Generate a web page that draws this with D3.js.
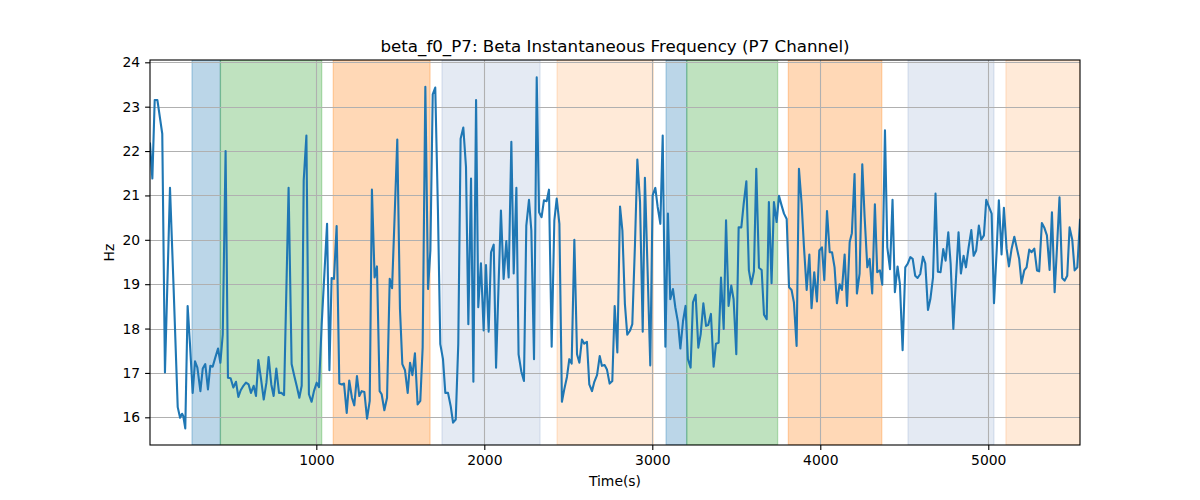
<!DOCTYPE html>
<html>
<head>
<meta charset="utf-8">
<script src="https://cdn.jsdelivr.net/npm/d3@7"></script>
<style>
  html, body { margin: 0; padding: 0; background: #fff; }
  svg { display: block; font-family: "DejaVu Sans", sans-serif; }
</style>
</head>
<body>
<svg id="chart" width="1200" height="500"></svg>
<script>
// ---- data ----
const titleText = "beta_f0_P7: Beta Instantaneous Frequency (P7 Channel)";
const xLabelText = "Time(s)";
const yLabelText = "Hz";
const xTickValues = [1000, 2000, 3000, 4000, 5000];
const yTickValues = [16, 17, 18, 19, 20, 21, 22, 23, 24];

const spanStart = [260, 429, 1101, 1748, 2433, 3082, 3205, 3810, 4522, 5105];
const spanEnd   = [429, 1032, 1677, 2332, 3006, 3205, 3746, 4366, 5034, 5546];
const spanKind  = ["blue", "green", "orange", "lightblue", "lightorange",
                   "blue", "green", "orange", "lightblue", "lightorange"];

const times = [10,24,38,54,83,99,129,149,175,189,201,208,220,234,248,264,278,292,310,324,339,355,369,383,399,415,429,443,460,474,490,506,522,536,550,566,581,597,611,627,641,655,671,687,703,716,732,746,762,778,792,808,835,853,869,883,899,913,925,941,956,972,986,1002,1016,1032,1064,1078,1091,1105,1121,1137,1151,1165,1181,1196,1212,1226,1242,1256,1270,1286,1302,1318,1331,1347,1361,1377,
1389,1405,1421,1437,1451,1466,1482,1498,1512,1528,1544,1558,1572,1587,1603,1619,1633,1649,1665,1679,1693,1708,1724,1738,1754,1768,1784,1800,1814,1830,1845,1859,1875,1891,1905,1921,1935,1951,1964,1980,1996,2010,2026,2040,2056,2070,2085,2099,2115,2131,2145,2161,2175,2191,2204,2220,2236,2250,2266,2280,2296,2312,2326,2341,2355,2371,2385,2401,2417,2431,2447,2462,2476,2492,2506,2520,2536,2552,2566,2581,2595,2611,2625,2641,2655,2671,2687,2700,2716,2730,2746,
2762,2776,2792,2808,2822,2837,2851,2867,2881,2897,2911,2927,2943,2956,2972,2988,3002,3018,3032,3048,3062,3078,3093,3107,3123,3137,3153,3167,3183,3198,3212,3228,3242,3258,3274,3288,3304,3320,3333,3349,3365,3379,3395,3409,3425,3439,3454,3470,3484,3500,3514,3530,3544,3560,3575,3589,3605,3619,3635,3651,3665,3681,3694,3710,3724,3740,3754,3770,3784,3800,3814,3829,3843,3859,3873,3889,3903,3919,3935,3948,3964,3980,3994,4010,4024,4040,4056,4070,4085,4099,4115,
4129,4145,4159,4175,4188,4204,4218,4234,4250,4264,4280,4294,4309,4325,4339,4355,4369,4385,4399,4415,4430,4444,4460,4474,4490,4506,4520,4536,4550,4565,4579,4595,4611,4625,4641,4655,4671,4686,4700,4716,4732,4746,4762,4776,4792,4807,4823,4837,4853,4867,4883,4899,4913,4928,4944,4958,4974,4988,5004,5020,5034,5050,5063,5079,5093,5109,5123,5139,5155,5169,5184,5198,5214,5228,5244,5258,5274,5290,5303,5319,5333,5349,5365,5379,5395,5409,5424,5440,5454,5470,5484,5500,5514,5530,5546];

const freqHz = [22.17,21.38,23.15,23.15,22.39,17.01,21.17,19.08,16.23,15.99,16.08,16.03,15.75,18.51,17.65,16.55,17.26,17.12,16.59,17.10,17.20,16.63,17.16,17.14,17.35,17.55,17.23,17.87,22.00,16.89,16.88,16.67,16.80,16.46,16.61,16.71,16.78,16.74,16.55,16.71,16.48,17.29,16.86,16.40,16.78,17.36,16.74,16.48,17.10,16.55,16.55,16.50,21.17,17.20,16.93,16.71,16.44,16.71,21.34,22.35,16.52,16.35,16.59,16.78,16.68,18.10,20.36,17.06,19.14,19.12,20.31,16.76,16.74,16.76,16.10,16.83,16.44,16.27,16.93,16.48,16.59,16.57,15.97,16.37,21.13,19.15,19.40,16.59,
16.52,16.16,16.44,19.12,18.91,20.51,22.26,18.44,17.20,17.06,16.55,17.23,16.95,17.44,16.29,16.37,17.57,23.45,18.89,19.76,23.28,23.43,20.66,17.65,17.31,16.55,16.55,16.25,15.88,15.95,17.65,22.28,22.53,21.64,18.10,21.38,16.80,23.15,18.48,19.47,17.96,19.43,17.93,19.72,19.89,17.12,19.00,20.66,19.12,19.97,19.15,22.21,19.24,21.17,17.42,17.04,16.82,20.32,20.90,20.21,17.31,23.66,20.62,20.51,20.89,20.87,21.13,17.59,20.44,20.93,20.36,16.35,16.63,16.91,17.31,17.21,20.00,17.42,17.23,17.75,17.66,17.70,16.74,16.59,16.80,16.95,17.38,17.16,17.18,17.08,16.76,
16.82,18.51,17.46,20.75,20.21,18.55,17.86,17.95,18.10,19.91,21.81,20.85,17.93,21.40,19.31,17.17,21.00,21.17,20.74,20.36,22.35,17.59,20.59,18.66,18.89,18.48,18.14,17.55,18.17,18.51,17.31,17.12,18.59,18.76,17.57,17.87,18.57,18.06,18.08,18.33,17.14,17.66,17.68,19.15,17.99,20.44,18.51,18.97,18.66,17.42,20.28,20.28,20.81,21.32,19.31,19.00,19.29,21.60,19.37,19.32,18.31,18.21,20.85,19.02,20.85,20.40,20.99,20.77,20.59,20.47,18.93,18.87,18.59,17.61,21.60,20.81,19.83,18.87,19.67,18.46,19.27,18.61,19.76,19.83,19.09,20.65,19.72,19.72,19.38,18.57,19.00,
18.87,19.67,18.51,19.95,20.15,21.48,18.79,19.24,21.70,20.51,19.38,19.57,18.79,20.80,19.27,19.31,18.99,22.47,19.83,19.34,20.90,18.82,19.40,19.00,17.51,19.38,19.46,19.61,19.57,19.19,19.14,19.23,19.62,19.47,18.42,18.66,19.15,21.04,19.28,19.27,19.79,19.53,20.17,19.46,17.99,19.08,20.17,19.24,19.64,19.38,19.83,20.22,19.64,19.76,20.32,20.00,20.10,20.90,20.74,20.59,18.57,19.76,20.89,19.67,20.72,19.80,19.40,19.80,20.07,19.83,19.57,19.02,19.31,19.38,19.78,19.72,19.80,19.31,19.29,20.38,20.28,20.10,19.32,20.62,18.82,19.82,20.96,19.14,19.08,19.19,20.28,20.00,19.31,19.38,20.45];

// ---- styles ----
const spanStyle = {
  blue:        { fill: "#1f77b4", opacity: 0.3 },
  green:       { fill: "#2ca02c", opacity: 0.3 },
  orange:      { fill: "#ff7f0e", opacity: 0.3 },
  lightblue:   { fill: "#4c72b0", opacity: 0.15 },
  lightorange: { fill: "#ff7f0e", opacity: 0.16 }
};

const W = 1200, H = 500;
const m = { left: 150, right: 1080, top: 60, bottom: 445 };

const svg = d3.select("#chart");

const x = d3.scaleLinear().domain(d3.extent(times)).range([m.left, m.right]);
const y = d3.scaleLinear().domain([15.376, 24.052]).range([m.bottom, m.top]);

svg.append("defs").append("clipPath").attr("id", "clip")
  .append("rect").attr("x", m.left).attr("y", m.top)
  .attr("width", m.right - m.left).attr("height", m.bottom - m.top);

// spans
const spans = spanStart.map((s, i) => ({ s, e: spanEnd[i], k: spanKind[i] }));
svg.append("g").attr("clip-path", "url(#clip)")
  .selectAll("rect").data(spans).join("rect")
  .attr("x", d => x(d.s))
  .attr("width", d => x(d.e) - x(d.s))
  .attr("y", m.top).attr("height", m.bottom - m.top)
  .attr("fill", d => spanStyle[d.k].fill)
  .attr("fill-opacity", d => spanStyle[d.k].opacity)
  .attr("stroke", d => spanStyle[d.k].fill)
  .attr("stroke-opacity", d => spanStyle[d.k].opacity)
  .attr("stroke-width", 1.3);

// grid
const grid = svg.append("g");
grid.selectAll("line.gx").data(xTickValues).join("line")
  .attr("x1", d => Math.round(x(d)) + 0.5).attr("x2", d => Math.round(x(d)) + 0.5)
  .attr("y1", m.top).attr("y2", m.bottom)
  .attr("stroke", "#b0b0b0").attr("stroke-width", 1.1);
grid.selectAll("line.gy").data(yTickValues).join("line")
  .attr("y1", d => Math.round(y(d)) + 0.5).attr("y2", d => Math.round(y(d)) + 0.5)
  .attr("x1", m.left).attr("x2", m.right)
  .attr("stroke", "#b0b0b0").attr("stroke-width", 1.1);

// line
const line = d3.line().x((d, i) => x(times[i])).y(d => y(d));
svg.append("path").attr("clip-path", "url(#clip)")
  .datum(freqHz)
  .attr("d", line)
  .attr("fill", "none")
  .attr("stroke", "#1f77b4")
  .attr("stroke-width", 2.1)
  .attr("stroke-linejoin", "round")
  .attr("stroke-linecap", "square");

// axes
const xAxis = d3.axisBottom(x).tickValues(xTickValues).tickSize(4.9).tickPadding(4.9).tickFormat(d3.format("d"));
const yAxis = d3.axisLeft(y).tickValues(yTickValues).tickSize(4.9).tickPadding(4.9).tickFormat(d3.format("d"));

const gx = svg.append("g").attr("transform", `translate(0,${m.bottom})`).call(xAxis);
const gy = svg.append("g").attr("transform", `translate(${m.left},0)`).call(yAxis);
[gx, gy].forEach(g => {
  g.select(".domain").remove();
  g.selectAll(".tick line").attr("stroke", "#000").attr("stroke-width", 1.1);
  g.selectAll(".tick text").attr("fill", "#000")
    .style("font-size", "13.9px").style("font-family", "DejaVu Sans, sans-serif");
});

// frame
svg.append("rect")
  .attr("x", m.left).attr("y", m.top)
  .attr("width", m.right - m.left).attr("height", m.bottom - m.top)
  .attr("fill", "none").attr("stroke", "#000").attr("stroke-width", 1.1);

// title and labels
svg.append("text").attr("x", (m.left + m.right) / 2).attr("y", 52)
  .attr("text-anchor", "middle").style("font-size", "16.7px").attr("fill", "#000")
  .text(titleText);
svg.append("text").attr("x", (m.left + m.right) / 2).attr("y", 486)
  .attr("text-anchor", "middle").style("font-size", "13.9px").attr("fill", "#000")
  .text(xLabelText);
svg.append("text")
  .attr("transform", `translate(114,${(m.top + m.bottom) / 2}) rotate(-90)`)
  .attr("text-anchor", "middle").style("font-size", "13.9px").attr("fill", "#000")
  .text(yLabelText);
</script>
</body>
</html>
